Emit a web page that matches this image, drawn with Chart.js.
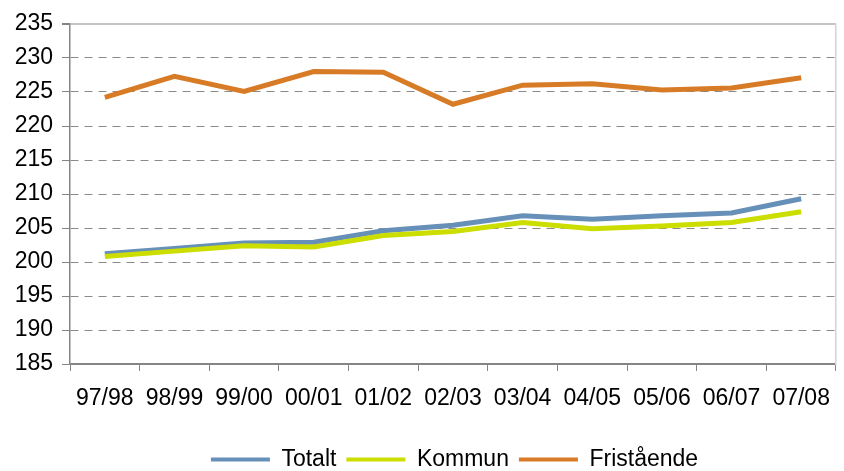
<!DOCTYPE html>
<html>
<head>
<meta charset="utf-8">
<script src="https://cdn.jsdelivr.net/npm/chart.js@4/dist/chart.umd.min.js"></script>
<style>
  html, body { margin: 0; padding: 0; background: #ffffff; }
  #wrap { width: 844px; height: 471px; position: relative; }
</style>
</head>
<body>
<div id="wrap"><canvas id="c"></canvas></div>
<script>
const categories = ["97/98", "98/99", "99/00", "00/01", "01/02", "02/03", "03/04", "04/05", "05/06", "06/07", "07/08"];
const totalt =     [201.2, 202.0, 202.8, 202.9, 204.6, 205.4, 206.8, 206.3, 206.8, 207.2, 209.3];
const kommun =     [200.8, 201.6, 202.4, 202.2, 203.9, 204.5, 205.8, 204.9, 205.3, 205.8, 207.4];
const fristaende = [224.2, 227.3, 225.1, 228.0, 227.9, 223.2, 226.0, 226.2, 225.3, 225.6, 227.1];
const yMin = 185, yMax = 235, yStep = 5;

const FONT = '"Liberation Sans", Arial, sans-serif';
const AXIS = '#858585';

// Center the legend under the plot area (not the whole canvas), as in the original.
const legendShift = {
  id: 'legendShift',
  afterLayout(chart) {
    if (chart.legend) chart.legend.left = chart.chartArea.left - 4;
  }
};

new Chart(document.getElementById('c'), {
  type: 'line',
  data: {
    labels: categories,
    datasets: [
      { label: 'Totalt', data: totalt, borderColor: '#6690B8', backgroundColor: '#6690B8', borderWidth: 5, pointRadius: 0, tension: 0, order: 2 },
      { label: 'Kommun', data: kommun, borderColor: '#CCDD00', backgroundColor: '#CCDD00', borderWidth: 5, pointRadius: 0, tension: 0, order: 1 },
      { label: 'Fristående', data: fristaende, borderColor: '#D87B27', backgroundColor: '#D87B27', borderWidth: 5, pointRadius: 0, tension: 0, order: 0 }
    ]
  },
  plugins: [legendShift],
  options: {
    responsive: true,
    maintainAspectRatio: false,
    animation: false,
    layout: { padding: { top: 24, right: 1, left: 0, bottom: -10 } },
    plugins: {
      tooltip: { enabled: false },
      legend: {
        position: 'bottom',
        labels: {
          boxWidth: 59,
          boxHeight: 4,
          padding: 10,
          color: '#000',
          font: { family: FONT, size: 23 },
          generateLabels: (chart) => Chart.defaults.plugins.legend.labels.generateLabels(chart)
            .sort((a, b) => a.datasetIndex - b.datasetIndex)
            .map(l => Object.assign(l, { fillStyle: l.strokeStyle, lineWidth: 0 }))
        }
      }
    },
    scales: {
      x: {
        offset: true,
        afterFit: (s) => { s.height = 74; },
        grid: { offset: true, drawOnChartArea: false, drawTicks: true, tickLength: 7, color: AXIS },
        border: { display: true, color: AXIS, width: 1.5 },
        ticks: { color: '#000', font: { family: FONT, size: 23 }, padding: 14, maxRotation: 0, autoSkip: false }
      },
      y: {
        min: yMin, max: yMax,
        afterFit: (s) => { s.width = 70; },
        ticks: { stepSize: yStep, color: '#000', font: { family: FONT, size: 23 }, padding: 9 },
        grid: {
          tickLength: 8,
          color: (ctx) => ctx.tick && ctx.tick.value === yMax ? '#c4c4c4' : (ctx.tick && ctx.tick.value === yMin ? AXIS : '#8a8a8a'),
          lineWidth: (ctx) => ctx.tick && ctx.tick.value === yMax ? 2 : 1,
          tickColor: AXIS
        },
        border: {
          display: true, color: AXIS, width: 1.5,
          dash: (ctx) => (ctx.tick && (ctx.tick.value === yMax || ctx.tick.value === yMin)) ? [] : [8, 6]
        }
      },
      y2: {
        position: 'right',
        min: yMin, max: yMax,
        afterFit: (s) => { s.width = 0; },
        ticks: { display: false },
        grid: { drawOnChartArea: false, drawTicks: false },
        border: { display: true, color: '#d4d4d4', width: 1.5 }
      }
    }
  }
});
</script>
</body>
</html>
